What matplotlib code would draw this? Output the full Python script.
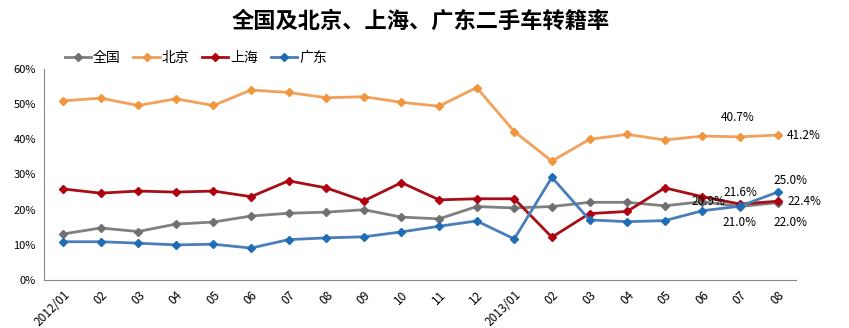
import numpy as np
import matplotlib.pyplot as plt

plt.rcParams['font.family'] = ['Noto Sans CJK SC', 'DejaVu Sans']

# Months
months = ['2012/01', '02', '03', '04', '05', '06', '07', '08', '09', '10', '11', '12',
          '2013/01', '02', '03', '04', '05', '06', '07', '08']

# Transfer rates (%)
national = [13.1, 14.8, 13.8, 15.9, 16.5, 18.2, 19.0, 19.3, 20.0, 17.9, 17.4, 20.9,
            20.5, 20.9, 22.1, 22.1, 21.1, 22.3, 20.9, 22.0]
beijing = [50.9, 51.7, 49.6, 51.5, 49.6, 54.0, 53.3, 51.8, 52.1, 50.5, 49.4, 54.7,
           42.2, 33.8, 40.0, 41.4, 39.8, 40.9, 40.7, 41.2]
shanghai = [25.9, 24.7, 25.3, 25.0, 25.3, 23.7, 28.2, 26.2, 22.5, 27.7, 22.8, 23.1,
            23.1, 12.2, 18.9, 19.5, 26.2, 23.7, 21.6, 22.4]
guangdong = [10.9, 10.9, 10.5, 10.0, 10.2, 9.1, 11.5, 12.0, 12.3, 13.7, 15.3, 16.8,
             11.7, 29.2, 17.1, 16.6, 16.9, 19.7, 21.0, 25.0]

x = np.arange(len(months))

fig = plt.figure(figsize=(8.49, 3.28), dpi=100)
ax = fig.add_axes([0.052, 0.146, 0.886, 0.644])

series = [
    ('全国', national, '#808080', '#707070'),
    ('北京', beijing, '#F2A05A', '#F0963C'),
    ('上海', shanghai, '#A50F15', '#B00010'),
    ('广东', guangdong, '#4A7EBB', '#1F6DB5'),
]
for name, vals, lc, mc in series:
    ax.plot(x, vals, color=lc, lw=2, marker='D', ms=4.5,
            markerfacecolor=mc, markeredgecolor=mc, label=name)

# data labels on the last months
lab = dict(fontsize=8.5, ha='center', va='center', textcoords='offset points')
ax.annotate('40.7%', (18, beijing[18]), xytext=(-2, 14), **lab)
ax.annotate('41.2%', (19, beijing[19]), xytext=(19, 0), **lab)
ax.annotate('25.0%', (19, guangdong[19]), xytext=(9, 8), **lab)
ax.annotate('22.4%', (19, shanghai[19]), xytext=(19, 0), **lab)
ax.annotate('22.0%', (19, national[19]), xytext=(9, -14), **lab)
ax.annotate('21.6%', (18, shanghai[18]), xytext=(0, 8), **lab)
ax.annotate('21.0%', (18, guangdong[18]), xytext=(0, -12), **lab)
ax.annotate('20.9%', (18, national[18]), xytext=(-23, 3.5), **lab)

ax.set_xlim(-0.5, 19.5)
ax.set_ylim(0, 60)
ax.set_yticks(np.arange(0, 61, 10))
ax.set_yticklabels([f'{v}%' for v in range(0, 61, 10)], fontsize=8)
ax.set_xticks(x)
ax.set_xticklabels(months, rotation=45, ha='right', rotation_mode='anchor', fontsize=8.5)
ax.tick_params(axis='both', length=0, pad=6)
for s in ['top', 'right']:
    ax.spines[s].set_visible(False)
for s in ['left', 'bottom']:
    ax.spines[s].set_color('#868686')

ax.legend(loc='lower left', bbox_to_anchor=(0.018, 0.985), ncol=4, frameon=False,
          fontsize=10, handlelength=1.9, handletextpad=0.15, columnspacing=0.9,
          borderaxespad=0.1)

fig.suptitle('全国及北京、上海、广东二手车转籍率', x=0.495, y=0.97,
             fontsize=16, fontweight='bold')

fig.savefig('out.png', dpi=100)
